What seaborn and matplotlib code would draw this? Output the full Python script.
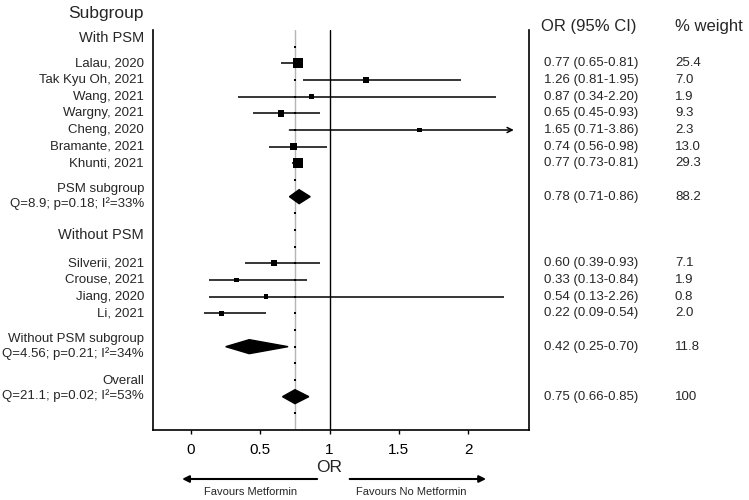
import matplotlib
matplotlib.use("Agg")
import matplotlib.pyplot as plt
import matplotlib.transforms as mtransforms
import numpy as np
import pandas as pd
import seaborn as sns

# ── DATA ─────────────────────────────────────────────────────────────────────
studies = ["Lalau, 2020", "Tak Kyu Oh, 2021", "Wang, 2021", "Wargny, 2021",
           "Cheng, 2020", "Bramante, 2021", "Khunti, 2021",
           "Silverii, 2021", "Crouse, 2021", "Jiang, 2020", "Li, 2021"]
study_or  = [0.77, 1.26, 0.87, 0.65, 1.65, 0.74, 0.77, 0.60, 0.33, 0.54, 0.22]
study_lo  = [0.65, 0.81, 0.34, 0.45, 0.71, 0.56, 0.73, 0.39, 0.13, 0.13, 0.09]
study_hi  = [0.81, 1.95, 2.20, 0.93, 3.86, 0.98, 0.81, 0.93, 0.84, 2.26, 0.54]
study_wt  = [25.4, 7.0, 1.9, 9.3, 2.3, 13.0, 29.3, 7.1, 1.9, 0.8, 2.0]
study_row = [2, 3, 4, 5, 6, 7, 8, 14, 15, 16, 17]

summ_label = ["PSM subgroup\nQ=8.9; p=0.18; I²=33%",
              "Without PSM subgroup\nQ=4.56; p=0.21; I²=34%",
              "Overall\nQ=21.1; p=0.02; I²=53%"]
summ_or  = [0.78, 0.42, 0.75]
summ_lo  = [0.71, 0.25, 0.66]
summ_hi  = [0.86, 0.70, 0.85]
summ_wt  = ["88.2", "11.8", "100"]
summ_row = [10, 19, 22]
summ_text_row = [10, 19, 21.5]

headers = ["With PSM", "Without PSM"]
header_row = [0.5, 12.3]

pooled_or = 0.75
x_ticks = [0, 0.5, 1, 1.5, 2]
x_min, x_max = -0.275, 2.44

df = pd.DataFrame({"study": studies, "OR": study_or, "lo": study_lo,
                   "hi": study_hi, "weight": study_wt, "row": study_row})

# ── PLOT ─────────────────────────────────────────────────────────────────────
sns.set_style("white")
plt.rcParams["font.family"] = ["Liberation Sans", "DejaVu Sans"]

fig = plt.figure(figsize=(7.49, 5.0), dpi=100)
ax = fig.add_axes([0.2043, 0.14, 0.502, 0.80])

# pooled reference line + dotted markers on every row
ax.axvline(pooled_or, color="#b5b5b5", linewidth=1, zorder=1)
ax.scatter([pooled_or] * 23, np.arange(1, 24), s=2, color="black",
           marker="s", linewidths=0, zorder=1.5)
ax.axvline(1, color="black", linewidth=1, zorder=1)

# CI lines (clip at axis edge with arrow)
clip_hi = 2.33
for _, r in df.iterrows():
    if r["hi"] > clip_hi:
        ax.annotate("", xy=(clip_hi, r["row"]), xytext=(r["lo"], r["row"]),
                    arrowprops=dict(arrowstyle="->", color="black", lw=1.1,
                                    shrinkA=0, shrinkB=0, mutation_scale=9))
    else:
        ax.hlines(r["row"], r["lo"], r["hi"], color="black", linewidth=1.1,
                  zorder=2)

sns.scatterplot(data=df, x="OR", y="row", size="weight", sizes=(10, 55),
                marker="s", color="black", edgecolor="black", linewidth=0,
                legend=False, ax=ax, zorder=3)

# summary diamonds
h = 0.42
for est, lo, hi, row in zip(summ_or, summ_lo, summ_hi, summ_row):
    ax.fill([lo, est, hi, est], [row, row - h, row, row + h],
            color="black", zorder=3)

ax.set_xlim(x_min, x_max)
ax.set_ylim(24, 0)
ax.set_xticks(x_ticks)
ax.set_xticklabels([f"{t:g}" for t in x_ticks], fontsize=11)
ax.set_yticks([])
ax.set_xlabel("")
ax.set_ylabel("")
ax.tick_params(axis="x", direction="out", length=3, width=1, pad=6,
               bottom=True, colors="black")
for side in ["left", "right", "bottom"]:
    ax.spines[side].set_color("black")
    ax.spines[side].set_linewidth(1.2)
ax.spines["top"].set_visible(False)

# ── TEXT COLUMNS ─────────────────────────────────────────────────────────────
tr = mtransforms.blended_transform_factory(ax.transAxes, ax.transData)
lab_x, or_x, wt_x = -0.024, 1.04, 1.388
val_fs = 9.5

ax.text(lab_x, -0.96, "Subgroup", transform=tr, ha="right", va="center",
        fontsize=12.5)
ax.text(or_x - 0.008, -0.18, "OR (95% CI)", transform=tr, ha="left",
        va="center", fontsize=12)
ax.text(wt_x, -0.18, "% weight", transform=tr, ha="left", va="center",
        fontsize=12)

for name, row in zip(headers, header_row):
    ax.text(lab_x, row, name, transform=tr, ha="right", va="center",
            fontsize=10.5)

for name, est, lo, hi, wt, row in zip(studies, study_or, study_lo, study_hi,
                                     study_wt, study_row):
    ax.text(lab_x, row, name, transform=tr, ha="right", va="center",
            fontsize=9.5)
    ax.text(or_x, row, f"{est:.2f} ({lo:.2f}-{hi:.2f})", transform=tr,
            ha="left", va="center", fontsize=val_fs)
    ax.text(wt_x, row, f"{wt:.1f}", transform=tr, ha="left", va="center",
            fontsize=val_fs)

for lab, est, lo, hi, wt, row, trow in zip(summ_label, summ_or, summ_lo,
                                           summ_hi, summ_wt, summ_row,
                                           summ_text_row):
    ax.text(lab_x, trow, lab, transform=tr, ha="right", va="center",
            fontsize=9.5, linespacing=1.25)
    ax.text(or_x, row, f"{est:.2f} ({lo:.2f}-{hi:.2f})", transform=tr,
            ha="left", va="center", fontsize=val_fs)
    ax.text(wt_x, row, wt, transform=tr, ha="left", va="center",
            fontsize=val_fs)

# ── BOTTOM LABELS / ARROWS ───────────────────────────────────────────────────
trb = mtransforms.blended_transform_factory(ax.transData, fig.transFigure)
ax.text(1, 0.066, "OR", transform=trb, ha="center", va="center",
        fontsize=12.5)
ax.annotate("", xy=(-0.065, 0.042), xytext=(0.91, 0.042), xycoords=trb,
            textcoords=trb, annotation_clip=False,
            arrowprops=dict(arrowstyle="-|>", color="black", lw=1.5,
                            shrinkA=0, shrinkB=0, mutation_scale=10))
ax.annotate("", xy=(2.13, 0.042), xytext=(1.145, 0.042), xycoords=trb,
            textcoords=trb, annotation_clip=False,
            arrowprops=dict(arrowstyle="-|>", color="black", lw=1.5,
                            shrinkA=0, shrinkB=0, mutation_scale=10))
ax.text(0.43, 0.016, "Favours Metformin", transform=trb, ha="center",
        va="center", fontsize=8)
ax.text(1.59, 0.016, "Favours No Metformin", transform=trb, ha="center",
        va="center", fontsize=8)

fig.savefig("out.png", dpi=100)
